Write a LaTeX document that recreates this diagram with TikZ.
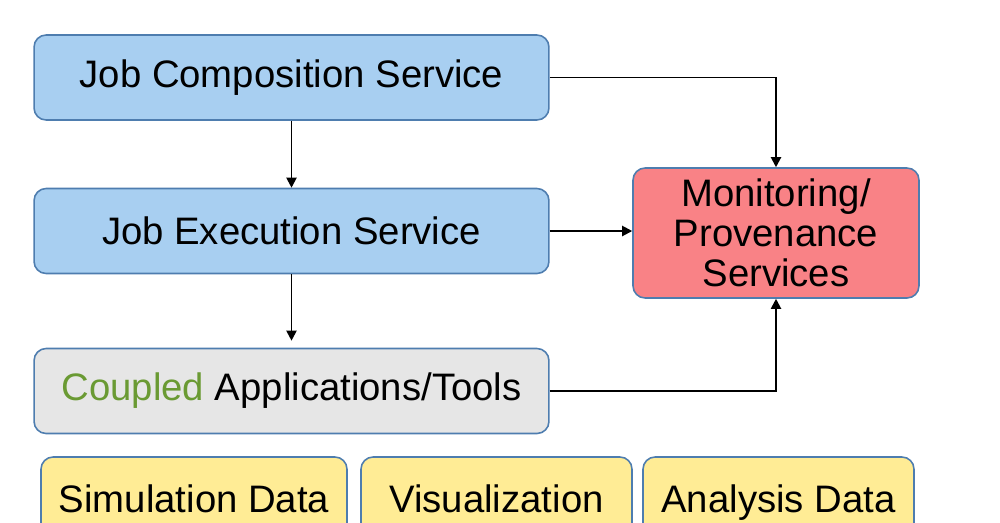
\documentclass[tikz,border=0pt]{standalone}
\usepackage{fontspec}
\setmainfont{Liberation Sans}
\usetikzlibrary{arrows.meta}
\definecolor{svcblue}{HTML}{A8CFF1}
\definecolor{edgeblue}{HTML}{4E7DAF}
\definecolor{monred}{HTML}{F98286}
\definecolor{appgrey}{HTML}{E6E6E6}
\definecolor{datayellow}{HTML}{FFEC95}
\definecolor{coupledgreen}{HTML}{6A9A33}
\tikzset{
  every box/.style={draw=edgeblue,line width=0.9pt,rounded corners=0.24cm,
    align=center,inner sep=0pt,font=\fontsize{21.8}{22.8}\selectfont},
  service box/.style={every box,fill=svcblue,minimum width=10.3cm,minimum height=1.7cm},
  app box/.style={every box,fill=appgrey,minimum width=10.3cm,minimum height=1.7cm},
  monitor box/.style={every box,fill=monred,minimum width=5.72cm,minimum height=2.6cm},
  data box/.style={every box,fill=datayellow,minimum height=1.6cm,
    text height=0.72cm,text depth=0.12cm},
  flow/.style={draw,line width=1.1pt,-{Triangle[length=0.2cm,width=0.2cm]}},
}

\begin{document}
\begin{tikzpicture}[x=0.02cm,y=-0.02cm]
\clip (0,0) rectangle (1000,522);
\node[service box] (comp) at (291.5,77.5) {Job Composition Service};
\node[service box] (exec) at (291.5,231) {Job Execution Service};
\node[app box] (apps) at (291.5,391) {\textcolor{coupledgreen}{Coupled} Applications/Tools};
\node[monitor box] (mon) at (776,233) {Monitoring/\\Provenance\\Services};
% data layer, cut off at the bottom edge
\node[data box,minimum width=6.12cm] (sim) at (194,497) {Simulation Data};
\node[data box,minimum width=5.42cm] (vis) at (496.5,497) {Visualization};
\node[data box,minimum width=5.42cm] (ana) at (778.5,497) {Analysis Data};
% connectors
\path[flow] (comp) -- (exec);
\path[flow,shorten >=4pt] (exec) -- (apps);
\path[flow] (comp.east) -| (mon.north);
\path[flow] (exec.east) -- (exec.east -| mon.west);
\path[flow] (apps.east) -| (mon.south);
\end{tikzpicture}
\end{document}
